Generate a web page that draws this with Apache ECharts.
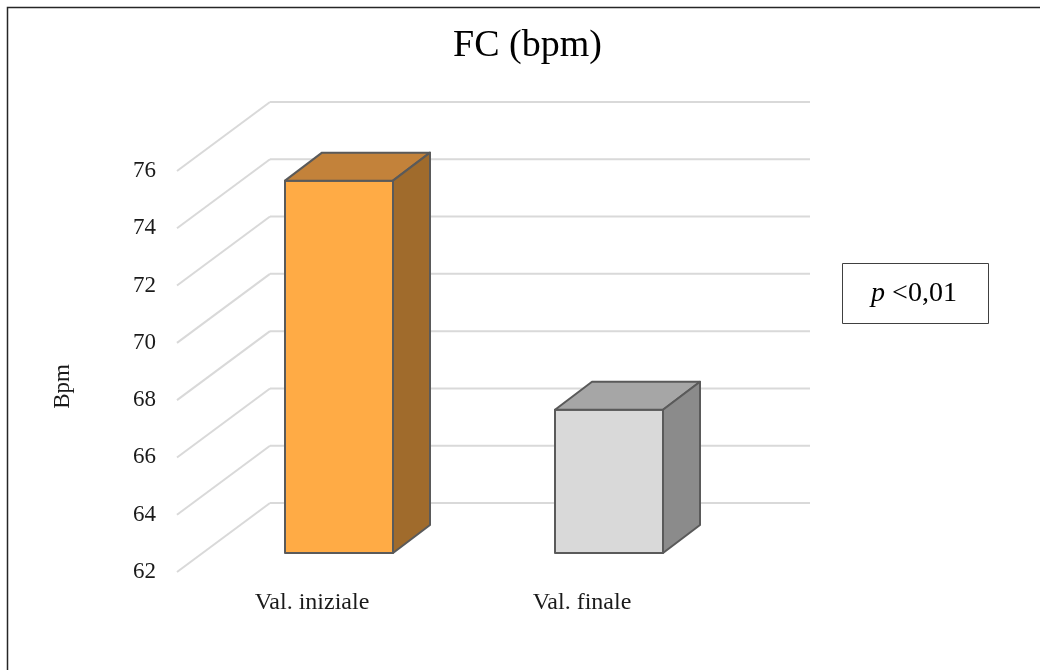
<!DOCTYPE html>
<html>
<head>
<meta charset="utf-8">
<title>FC (bpm)</title>
<script src="https://cdn.jsdelivr.net/npm/echarts@6/dist/echarts.min.js"></script>
<style>
  html, body { margin: 0; padding: 0; background: #ffffff; }
  #chart { width: 1040px; height: 670px; }
</style>
</head>
<body>
<div id="chart"></div>
<script>
// Heart rate before / after
const categories = ['Val. iniziale', 'Val. finale'];
const fcValues = [75, 67];
const yTicks = [62, 64, 66, 68, 70, 72, 74, 76];

// Face colours per bar: front, top, side
const barFront = ['#FFAB45', '#D9D9D9'];
const barTop = ['#C3823A', '#A6A6A6'];
const barSide = ['#A06B2C', '#8B8B8B'];

// Pseudo-3D projection (pixels): back wall and bar depth offsets
const WALL_DX = 93, WALL_DY = -69;
const BAR_OFF_DX = 27, BAR_OFF_DY = -19;
const BAR_DX = 37, BAR_DY = -28;
const BAR_WIDTH_RATIO = 0.4;

const yMin = yTicks[0];
const yMax = yTicks[yTicks.length - 1];
const serif = '"Liberation Serif", "Times New Roman", serif';

const chart = echarts.init(document.getElementById('chart'));

function renderWall(params, api) {
  const cs = params.coordSys;
  const y = api.coord([0, api.value(1)])[1];
  const x0 = cs.x;
  const x1 = cs.x + cs.width;
  const style = { stroke: '#D9D9D9', lineWidth: 2 };
  return {
    type: 'group',
    children: [
      { type: 'line', shape: { x1: x0, y1: y, x2: x0 + WALL_DX, y2: y + WALL_DY }, style: style },
      { type: 'line', shape: { x1: x0 + WALL_DX, y1: y + WALL_DY, x2: x1 + WALL_DX, y2: y + WALL_DY }, style: style }
    ]
  };
}

function renderBar(params, api) {
  const i = api.value(0);
  const top = api.coord([i, api.value(1)]);
  const base = api.coord([i, yMin]);
  const bw = api.size([1, 0])[0] * BAR_WIDTH_RATIO;
  const x0 = top[0] - bw / 2 + BAR_OFF_DX;
  const x1 = x0 + bw;
  const yt = top[1] + BAR_OFF_DY;
  const yb = base[1] + BAR_OFF_DY;
  const edge = { stroke: '#5A5A5A', lineWidth: 2, lineJoin: 'round' };
  return {
    type: 'group',
    children: [
      { type: 'polygon', shape: { points: [[x0, yt], [x1, yt], [x1, yb], [x0, yb]] },
        style: Object.assign({ fill: barFront[i] }, edge) },
      { type: 'polygon', shape: { points: [[x0, yt], [x0 + BAR_DX, yt + BAR_DY], [x1 + BAR_DX, yt + BAR_DY], [x1, yt]] },
        style: Object.assign({ fill: barTop[i] }, edge) },
      { type: 'polygon', shape: { points: [[x1, yt], [x1 + BAR_DX, yt + BAR_DY], [x1 + BAR_DX, yb + BAR_DY], [x1, yb]] },
        style: Object.assign({ fill: barSide[i] }, edge) }
    ]
  };
}

chart.setOption({
  backgroundColor: '#ffffff',
  animation: false,
  title: {
    text: 'FC (bpm)',
    left: 453,
    top: 27,
    padding: 0,
    textStyle: { fontFamily: serif, fontSize: 38, fontWeight: 'normal', color: '#000000' }
  },
  grid: {
    left: 177, right: 323, top: 171, bottom: 98,
    containLabel: false,
    outerBoundsMode: 'none'
  },
  xAxis: {
    type: 'category',
    data: categories,
    axisLine: { show: false },
    axisTick: { show: false },
    splitLine: { show: false },
    axisLabel: { margin: 19, fontFamily: serif, fontSize: 24, color: '#1A1A1A' }
  },
  yAxis: {
    type: 'value',
    min: yMin,
    max: yMax,
    interval: 2,
    name: 'Bpm',
    nameLocation: 'middle',
    nameGap: 103,
    nameTextStyle: { fontFamily: serif, fontSize: 23, color: '#1A1A1A', padding: [0, 0, 0, -30] },
    axisLine: { show: false },
    axisTick: { show: false },
    splitLine: { show: false },
    axisLabel: { margin: 21, fontFamily: serif, fontSize: 23, color: '#1A1A1A' }
  },
  graphic: [
    {
      type: 'rect',
      shape: { x: 7.5, y: 7.5, width: 1200, height: 1000 },
      style: { fill: 'none', stroke: '#262626', lineWidth: 1.5 },
      silent: true
    },
    {
      type: 'rect',
      shape: { x: 842.5, y: 263.5, width: 146, height: 60 },
      style: { fill: '#ffffff', stroke: '#404040', lineWidth: 1 },
      silent: true
    },
    {
      type: 'text',
      x: 914, y: 294,
      style: {
        text: '{i|p} <0,01',
        align: 'center',
        verticalAlign: 'middle',
        fontFamily: serif,
        fontSize: 28,
        fill: '#000000',
        rich: { i: { fontFamily: serif, fontSize: 28, fontStyle: 'italic', fill: '#000000' } }
      },
      silent: true
    }
  ],
  series: [
    {
      type: 'custom',
      name: 'wall',
      silent: true,
      clip: false,
      z: 1,
      encode: { x: 0, y: 1 },
      data: yTicks.map(function (v) { return [0, v]; }),
      renderItem: renderWall
    },
    {
      type: 'custom',
      name: 'FC',
      clip: false,
      z: 2,
      encode: { x: 0, y: 1 },
      data: fcValues.map(function (v, i) { return [i, v]; }),
      renderItem: renderBar
    }
  ]
});
</script>
</body>
</html>
